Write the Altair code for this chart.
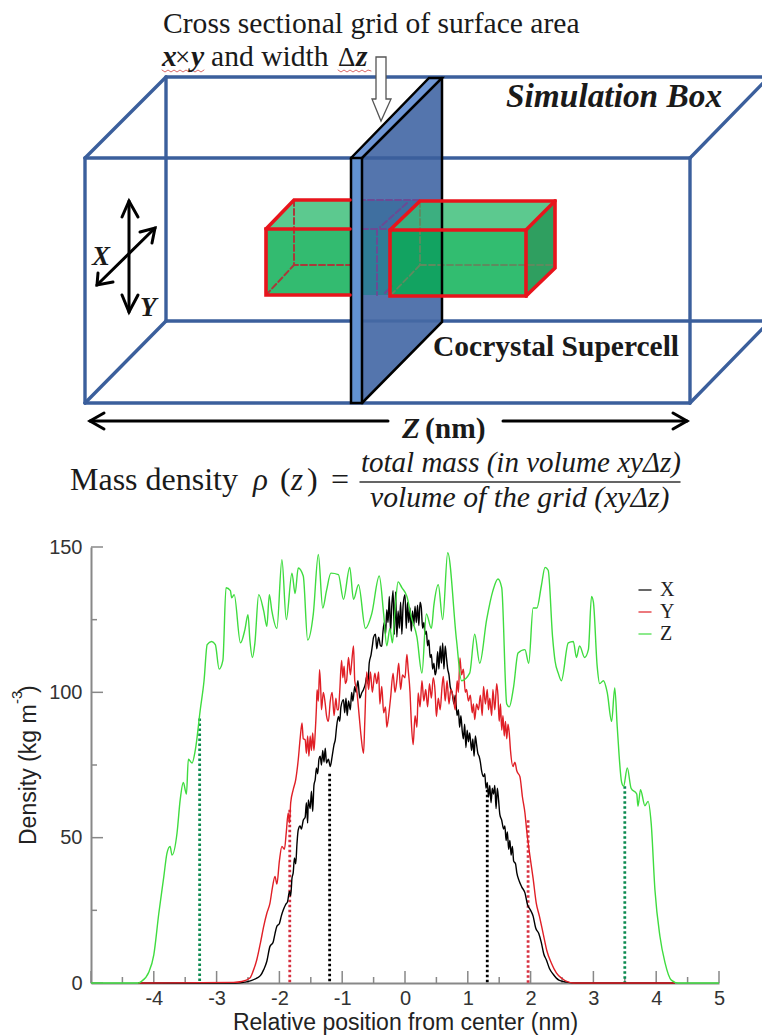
import altair as alt
import pandas as pd

# ---- density profiles
z_pos = [-5,-4.25,-4.2,-4.08,-4.0,-3.92,-3.84,-3.79,-3.74,-3.71,-3.63,-3.58,-3.53,-3.48,-3.45,-3.39,-3.34,-3.26,-3.2,-3.15,-3.08,-3.02,-2.96,-2.9,-2.85,-2.78,-2.76,-2.72,-2.62,-2.55,-2.5,-2.47,-2.43,-2.39,-2.33,-2.25,-2.2,-2.16,-2.12,-2.04,-1.96,-1.89,-1.8,-1.75,-1.7,-1.62,-1.55,-1.46,-1.38,-1.31,-1.25,-1.18,-1.06,-0.98,-0.88,-0.82,-0.74,-0.63,-0.53,-0.41,-0.34,-0.29,-0.24,-0.2,-0.16,-0.11,-0.05,0.03,0.1,0.19,0.27,0.34,0.42,0.46,0.53,0.6,0.68,0.82,0.9,1.03,1.11,1.19,1.3,1.4,1.48,1.54,1.62,1.66,1.73,1.8,1.91,1.97,2.04,2.1,2.17,2.23,2.28,2.35,2.39,2.44,2.49,2.6,2.68,2.73,2.78,2.86,2.92,2.97,3.0,3.06,3.1,3.16,3.22,3.29,3.34,3.38,3.45,3.48,3.54,3.6,3.69,3.71,3.75,3.82,3.87,3.92,3.98,4.06,4.14,4.24,4.35,5]
z_den = [0,0,0.5,3.7,9.7,24,36.7,44.7,47,44,51.6,63,69,65,77,75.7,80,94,104,116.4,117.5,116.4,108,111,136,135,132.5,133.6,117,121.5,126.7,118,112,117,133.6,128,122.7,133.6,128,122,145.6,125,141,134,142.8,140,118,127,147.4,129,135,141,140.5,132,143,132,137,122,127,140,127,116,122,117,128,138,136,133,126,119,106.6,127,122,130,137,125,148,118,104,106.6,120,110,125,135,139,136,96,95,102,113.5,114.7,110,129,129,136.5,143,142,119,110.7,106.6,104,117,117.5,112,116,112,114.7,133,131,109,103,104,100,90,101.5,88,69,67.7,74,67,65,60.8,66.5,61,62.5,55,32,16,7,1,0,0]
x_pos = [-4.25,-2.7,-2.55,-2.45,-2.36,-2.3,-2.25,-2.2,-2.15,-2.1,-2.07,-2.04,-2.0,-1.97,-1.94,-1.9,-1.87,-1.84,-1.82,-1.8,-1.78,-1.76,-1.74,-1.72,-1.7,-1.67,-1.65,-1.62,-1.59,-1.57,-1.55,-1.54,-1.51,-1.49,-1.47,-1.45,-1.43,-1.41,-1.39,-1.37,-1.35,-1.33,-1.31,-1.29,-1.27,-1.25,-1.22,-1.19,-1.16,-1.13,-1.11,-1.09,-1.06,-1.04,-1.02,-.98,-.96,-.94,-.92,-.9,-.87,-.85,-.83,-.8,-.78,-.75,-.72,-.69,-.66,-.63,-.61,-.59,-.57,-.54,-.52,-.5,-.47,-.45,-.42,-.39,-.37,-.35,-.33,-.31,-.29,-.27,-.25,-.23,-.21,-.19,-.17,-.15,-.13,-.11,-.09,-.07,-.05,-.03,0,.02,.04,.06,.08,.1,.12,.14,.16,.18,.2,.22,.24,.26,.28,.3,.32,.34,.36,.38,.4,.42,.44,.46,.48,.5,.52,.54,.56,.58,.6,.62,.64,.66,.68,.7,.72,.75,.78,.8,.83,.85,.87,.89,.91,.93,.95,.97,.99,1.01,1.03,1.06,1.08,1.1,1.12,1.14,1.16,1.18,1.2,1.22,1.25,1.27,1.29,1.31,1.33,1.35,1.37,1.39,1.41,1.43,1.45,1.47,1.49,1.51,1.54,1.57,1.59,1.61,1.63,1.65,1.67,1.69,1.71,1.73,1.76,1.78,1.82,1.86,1.91,1.95,2.0,2.04,2.08,2.13,2.17,2.21,2.25,2.3,2.36,2.45,2.57,2.73,4.3]
x_den = [0,0,.3,.8,1.7,2.6,4.6,7.5,12.6,14,17,19.5,20.5,23,25,27,28,31.5,30,36,38,43,41,48,52.7,54,53,56,57,62,55,63,60,66,59,68,70,74,72,77,78,75,80,76,80.8,75.7,77,74.5,78,82,83.7,88,91.7,90,95,97.5,93,98,92,97,94,100,97,102,100,104,98,99.8,101,103,105.5,103,110,113,116,119,120,115,119,116,115.8,121,124,120,128.4,124,133,121,130,135,120,134.5,119,128,122,131,120,130,133.6,122,131,124,129,121,128,123,129.6,124,130,123,131,129,122,124,120,121,116,118,112,113,108,110,106,108,114,108,116,110,117,108,116,112,108,106,102,100,96,99,92,94,88,92,87,84,89,81,87,83,86,80,84,78,85,82,79,78,76,73,71,72,67,69,64,68,62,67,65,68,60,67,63,58,56,53,54,49,52,46,49,44,47,42,41,38,35,33,31,27,25,23,19,17,14,10,8,5,3,1,.3,0,0]
y_points = [(-4.25,0),(-2.73,.2),(-2.6,.5),(-2.47,1.7),(-2.42,4),(-2.36,8),(-2.3,14),(-2.25,19.5),(-2.2,24),(-2.15,27.5),(-2.11,33),(-2.07,36.7),(-2.04,34),(-2.0,42),(-1.96,47),(-1.92,46),(-1.89,52),(-1.86,58.5),(-1.84,55),(-1.82,62),(-1.78,66.5),(-1.74,70),(-1.7,76.8),(-1.67,84),(-1.64,89.5),(-1.62,84),(-1.59,83.7),(-1.57,79),(-1.55,85),(-1.53,78),(-1.51,85),(-1.49,80),(-1.47,86),(-1.45,80),(-1.43,86),(-1.41,95),(-1.4,100.9),(-1.38,97),(-1.36,107.8),(-1.34,100),(-1.33,94),(-1.3,100),(-1.27,96),(-1.25,92),(-1.22,90),(-1.19,97),(-1.16,100),(-1.13,92),(-1.1,98),(-1.08,94),(-1.06,94),(-1.04,100),(-1.01,111),(-.99,105),(-.97,109),(-.95,103),(-.93,104),(-.9,112),(-.87,106),(-.85,110),(-.82,116),(-.8,104),(-.77,101),(-.73,92),(-.7,85),(-.66,79),(-.64,90),(-.61,107),(-.58,101),(-.55,107),(-.52,100),(-.48,106.6),(-.45,103),(-.42,107),(-.4,96),(-.37,102),(-.34,93),(-.31,95),(-.29,88),(-.26,92),(-.23,98),(-.19,106.6),(-.16,100),(-.13,104),(-.1,110),(-.07,101),(-.04,106),(0,105),(.03,113),(.05,108),(.08,100),(.1,90),(.13,82),(.16,92),(.19,88),(.21,99.8),(.24,95),(.27,104),(.3,97),(.33,101),(.36,95),(.39,103),(.42,98),(.45,105),(.48,100),(.5,91.7),(.53,98),(.56,94),(.59,102),(.61,105.5),(.64,97),(.67,104),(.7,96),(.73,101),(.77,98),(.8,94),(.83,104),(.85,100),(.875,111.8),(.9,106),(.93,108),(.96,100),(.98,101),(1.01,97),(1.04,99),(1.07,93),(1.09,96),(1.11,90.6),(1.14,96),(1.17,94),(1.2,99),(1.23,92),(1.25,102),(1.28,96),(1.31,101),(1.33,94),(1.35,98),(1.38,92),(1.4,101),(1.43,94),(1.46,103),(1.48,99),(1.5,90),(1.52,96),(1.54,87),(1.56,92),(1.58,85),(1.6,90),(1.62,84),(1.64,89),(1.66,86),(1.68,80),(1.72,74.5),(1.75,76),(1.78,73),(1.83,71),(1.87,64),(1.91,58.5),(1.94,52),(1.99,43.6),(2.04,36),(2.09,27.5),(2.14,23),(2.2,17),(2.26,11),(2.33,6.9),(2.41,3.5),(2.49,1.7),(2.68,0),(4.3,0)]
series = ["X", "Y", "Z"]
series_colors = ["#000000", "#e01f26", "#3fdc3f"]
guide_pos = [-3.27, -1.835, -1.2, 1.31, 1.96, 3.5]
guide_top = [91, 59.6, 72, 66.5, 56, 67.7]
guide_col = ["#0b8a50", "#d63040", "#000000", "#000000", "#d63040", "#0b8a50"]
x_major = [-5,-4,-3,-2,-1,0,1,2,3,4,5]
x_minor = [-4.5,-3.5,-2.5,-1.5,-.5,.5,1.5,2.5,3.5,4.5]
x_labels = [-4,-3,-2,-1,0,1,2,3,4,5]
y_major = [0,50,100,150]
y_minor = [25,75,125]

BOX = "#3b5f9c"
RED = "#e8141c"
X_DOM = alt.Scale(domain=[-5, 5])
Y_DOM = alt.Scale(domain=[0, 150])
PX = alt.Scale(domain=[91, 719])
PY = alt.Scale(domain=[983, 547])
layers = []

def lines(paths, color, width=3.4, dash=None, opacity=1, cap="round"):
    rows = [dict(x=p[0], y=p[1], i=i, g=g) for g, path in enumerate(paths) for i, p in enumerate(path)]
    kw = dict(color=color, strokeWidth=width, opacity=opacity, strokeCap=cap, strokeJoin="miter")
    if dash:
        kw["strokeDash"] = dash
    layers.append(alt.Chart(pd.DataFrame(rows)).mark_line(**kw).encode(
        x=alt.X("x:Q", scale=PX, axis=None), y=alt.Y("y:Q", scale=PY, axis=None),
        detail="g:N", order="i:Q"))

def rect(x1, x2, y1, y2, color, opacity=1):
    d = pd.DataFrame([dict(x=x1, x2=x2, y=y1, y2=y2)])
    layers.append(alt.Chart(d).mark_rect(color=color, opacity=opacity).encode(
        x=alt.X("x:Q", scale=PX, axis=None), x2="x2:Q",
        y=alt.Y("y:Q", scale=PY, axis=None), y2="y2:Q"))

def slant_v(pts, color, opacity=1):
    d = pd.DataFrame([dict(x=a, y=b, y2=c) for a, b, c in pts])
    layers.append(alt.Chart(d).mark_area(color=color, opacity=opacity, orient="vertical").encode(
        x=alt.X("x:Q", scale=PX, axis=None),
        y=alt.Y("y:Q", scale=PY, axis=None), y2="y2:Q"))

def slant_h(pts, color, opacity=1):
    d = pd.DataFrame([dict(y=a, x=b, x2=c) for a, b, c in pts])
    layers.append(alt.Chart(d).mark_area(color=color, opacity=opacity, orient="horizontal").encode(
        y=alt.Y("y:Q", scale=PY, axis=None),
        x=alt.X("x:Q", scale=PX, axis=None), x2="x2:Q"))

def text(s, x, y, size, font="Liberation Serif", style="normal", weight="normal", color="#1a1a1a", align="left", angle=0):
    d = pd.DataFrame([dict(x=x, y=y, t=s)])
    layers.append(alt.Chart(d).mark_text(font=font, fontSize=size, fontStyle=style, fontWeight=weight,
        color=color, align=align, baseline="alphabetic", angle=angle).encode(
        x=alt.X("x:Q", scale=PX, axis=None), y=alt.Y("y:Q", scale=PY, axis=None), text="t:N"))

# ---- schematic: back edges of the box
lines([[(166,77),(770,77)], [(166,77),(166,321)], [(166,321),(770,321)]], BOX)
lines([[(85,158),(166,77)], [(85,403),(166,321)], [(690,158),(769,77)], [(690,403),(769,322)]], BOX)
# left part of the supercell
slant_h([(200,294,420),(229,266,390)], "#5cc98f")
rect(266, 390, 229, 295, "#33bb70")
lines([[(294,200),(294,265),(350,265)], [(266,295),(294,265)]], "#a83a3a", 2, [6,3])
# slab sheet
slant_v([(362,158,403),(442,78,322)], "#5475ad")
rect(362, 390, 229, 295, "#2f7d96")
slant_h([(200,362,420),(229,362,390)], "#3f6fa0")
lines([[(350,200),(420,200)], [(362,229),(390,229)], [(407,203),(380,227)], [(377,229),(377,295)], [(385,293),(392,286)]], "#6b4a94", 2, [6,3])
# right part of the supercell
slant_h([(201,420,555),(230,390,526)], "#36bd75", 0.81)
rect(390, 526, 230, 296, "#03ae4f", 0.81)
slant_v([(526,230,296),(555,201,268)], "#2f9f60")
lines([[(420,201),(420,265)], [(420,265),(555,265)], [(420,265),(390,296)]], "#5f8a5f", 1.8, [6,3])
# front edges of the box (over the sheet)
lines([[(85,158),(690,158)], [(85,403),(690,403)], [(85,158),(85,403)], [(690,158),(690,403)]], BOX)
lines([[(362,321),(442,321)]], BOX, 3, opacity=0.6)
# slab front strip and top
rect(351, 362, 158, 403, "#6292d0")
slant_h([(78,429,442),(158,351,362)], "#6f97d6")
lines([[(351,158),(362,158),(362,403),(351,403),(351,158)], [(351,158),(429,78),(442,78),(362,158)],
       [(442,78),(442,322),(362,403)]], "#000000", 2.5)
# red outlines
lines([[(350,229),(266,229),(266,295),(350,295)], [(266,229),(294,200),(350,200)],
       [(390,230),(526,230),(526,296),(390,296),(390,230)], [(390,230),(420,201),(555,201),(555,268),(526,296)],
       [(526,230),(555,201)]], RED, 3.6)
# white arrow
rect(376, 386, 57, 99, "#ffffff")
slant_v([(372,99,99),(381,99,121),(391,99,99)], "#ffffff")
lines([[(376,99),(376,57),(386,57),(386,99),(391,99),(381,121),(372,99),(376,99)]], "#555555", 1.3)
# black arrows
lines([[(129,201),(129,312)], [(122,217),(129,201),(138,217)], [(122,295),(129,312),(138,295)],
       [(155,228),(97,285)], [(140,232),(155,228),(152,243)], [(98,273),(97,285),(113,282)]], "#000000", 3)
lines([[(388,421),(90,421)], [(104,413),(90,421),(104,429)], [(503,421),(687,421)], [(673,413),(687,421),(673,429)]], "#000000", 3)
# spell-check underlines
lines([[(162,70),(165,72),(168,70),(171,72),(174,70),(177,72),(180,70),(183,72),(186,70),(189,72),(192,70),(195,72),(198,70),(201,72),(204,70)],
       [(338,70),(341,72),(344,70),(347,72),(350,70),(353,72),(356,70),(359,72),(362,70),(365,72),(368,70),(371,71)]], "#d96a6a", 1)
# schematic text
text("Cross sectional grid of surface area", 163, 33, 29.6)
text("x", 162, 66, 29.6, style="italic", weight="bold")
text("×", 175, 66, 27)
text("y", 191, 66, 29.6, style="italic", weight="bold")
text("and width", 211, 66, 29.6)
text("Δ", 338, 66, 27)
text("z", 356, 66, 29.6, style="italic", weight="bold")
text("Simulation Box", 506, 107, 33.4, style="italic", weight="bold")
text("Cocrystal Supercell", 433, 356, 29.5, weight="bold")
text("Z", 402, 438, 29.5, style="italic", weight="bold")
text("(nm)", 425, 438, 29.5, weight="bold")
text("X", 92, 265, 27, style="italic", weight="bold")
text("Y", 140, 316, 27, style="italic", weight="bold")
text("Mass density", 70, 490, 32)
text("ρ", 253, 490, 31, style="italic")
text("(", 280, 490, 32)
text("z", 291, 490, 31, style="italic")
text(")", 307, 490, 32)
text("=", 331, 490, 32)
lines([[(360,482),(680,482)]], "#333333", 1.5)
text("total mass (in volume xyΔz)", 361, 472, 29, style="italic")
text("volume of the grid (xyΔz)", 370, 507, 29.7, style="italic")

# ---- density chart: axes
ticks_x = pd.DataFrame(dict(v=x_labels + [-5]))
layers.append(alt.Chart(ticks_x).mark_rule(color="#888888", strokeWidth=1.5).encode(
    x=alt.X("v:Q", scale=X_DOM, axis=alt.Axis(values=x_labels, title="Relative position from center (nm)",
        titleFont="Liberation Sans", titleFontSize=23, titleFontWeight="normal", titleColor="#222222", titlePadding=3,
        labelFont="Liberation Sans", labelFontSize=20, labelColor="#333333", labelPadding=5, labelFlush=False,
        labelExpr="'' + datum.value",
        tickSize=0, ticks=False, grid=False, domainColor="#888888", domainWidth=2)),
    y=alt.value(436), y2=alt.value(424)))
layers.append(alt.Chart(pd.DataFrame(dict(v=x_minor))).mark_rule(color="#888888", strokeWidth=1.5).encode(
    x=alt.X("v:Q", scale=X_DOM, axis=None), y=alt.value(436), y2=alt.value(430)))
layers.append(alt.Chart(pd.DataFrame(dict(v=y_major))).mark_rule(color="#888888", strokeWidth=1.5).encode(
    y=alt.Y("v:Q", scale=Y_DOM, axis=alt.Axis(values=y_major, title=None,
        labelFont="Liberation Sans", labelFontSize=20, labelColor="#333333", labelPadding=9,
        tickSize=0, ticks=False, grid=False, domainColor="#888888", domainWidth=2)),
    x=alt.value(0), x2=alt.value(12)))
layers.append(alt.Chart(pd.DataFrame(dict(v=y_minor))).mark_rule(color="#888888", strokeWidth=1.5).encode(
    y=alt.Y("v:Q", scale=Y_DOM, axis=None), x=alt.value(0), x2=alt.value(6)))
text("Density (kg m", 36, 845, 23, font="Liberation Sans", angle=270, color="#222222")
text("-3", 22, 704, 15, font="Liberation Sans", angle=270, color="#222222")
text(")", 36, 693, 23, font="Liberation Sans", angle=270, color="#222222")

# ---- dotted guides
guides = pd.DataFrame(dict(x=guide_pos, top=guide_top, c=guide_col, base=[0]*6))
for c in sorted(set(guide_col)):
    layers.append(alt.Chart(guides[guides.c == c]).mark_rule(strokeWidth=2.8, strokeDash=[2.5, 2.5], color=c).encode(
        x=alt.X("x:Q", scale=X_DOM, axis=None),
        y=alt.Y("top:Q", scale=Y_DOM, axis=None), y2="base:Q"))

# ---- profiles
rows = [dict(x=a, d=b, s="X") for a, b in zip(x_pos, x_den)] + \
       [dict(x=a, d=b, s="Y") for a, b in y_points] + \
       [dict(x=a, d=b, s="Z") for a, b in zip(z_pos, z_den)]
layers.append(alt.Chart(pd.DataFrame(rows)).mark_line(strokeWidth=1.4, interpolate="monotone").encode(
    x=alt.X("x:Q", scale=X_DOM, axis=None),
    y=alt.Y("d:Q", scale=Y_DOM, axis=None),
    color=alt.Color("s:N", scale=alt.Scale(domain=series, range=series_colors),
        legend=alt.Legend(orient="none", legendX=544, legendY=33, title=None, symbolType="stroke",
            symbolSize=170, symbolStrokeWidth=1.2, labelFont="Liberation Serif", labelFontSize=20,
            labelColor="#222222", labelOffset=5, rowPadding=2))))

chart = alt.layer(*layers).resolve_scale(x="independent", y="independent").properties(
    width=628, height=436,
    padding=dict(left=83, top=539, right=43, bottom=52),
    autosize=alt.AutoSizeParams(type="none", contains="content"),
    background="white",
).configure_view(stroke=None)

chart.save("out.html", embed_options={"renderer": "svg", "actions": False})
